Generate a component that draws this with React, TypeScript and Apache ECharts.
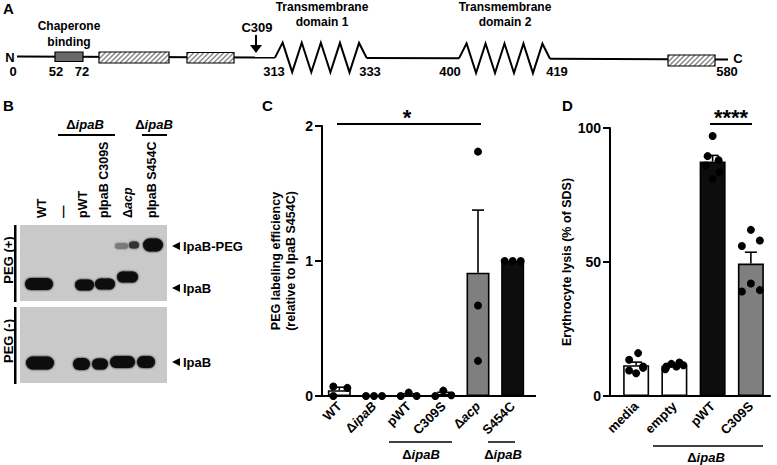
import React, { useEffect, useRef } from 'react';
import * as echarts from 'echarts';

const FONT = '"Liberation Sans", Arial, Helvetica, sans-serif';

// Panel C data
const cCategories = ['WT', 'ΔipaB', 'pWT', 'C309S', 'Δacp', 'S454C'];
const cWT = [0.07, 0.0, 0.06];
const cIpaB = [0, 0, 0];
const cPWT = [0, 0.025, 0];
const cC309S = [0, 0.04, 0.005];
const cAcp = [1.81, 0.67, 0.26];
const cS454C = [1, 1, 1];
const cTicks = [0, 1, 2];

// Panel D data
const dCategories = ['media', 'empty', 'pWT', 'C309S'];
const dMedia = [16, 13.5, 11, 9.5, 8.5, 10.5];
const dEmpty = [11, 12, 12.5, 11.5, 10, 11];
const dPWT = [97, 89.5, 88, 86, 83.5, 81];
const dC309S = [62, 56, 58, 39, 39.5, 42];
const dTicks = [0, 50, 100];

// styles
const cFills = ['#ffffff', '#ffffff', '#ffffff', '#ffffff', '#7f7f7f', '#0d0d0d'];
const dFills = ['#ffffff', '#ffffff', '#0d0d0d', '#7f7f7f'];
const cJitter = [[-6, -6, 8], [-8, 0, 8], [-8, 0, 8], [-8, 0, 8], [0, 0, 0], [-8, 0, 8]];
const dJitter = [[2, -7, 7, -7, 0, 7], [-8, -3, 5, 9, -9, 2], [0, -5, 6, -7, 7, 0], [0, -9, 9, -9, 9, 0]];

const mean = (a: number[]) => a.reduce((s, v) => s + v, 0) / a.length;
const sem = (a: number[]) => {
  const m = mean(a);
  const v = a.reduce((s, x) => s + (x - m) * (x - m), 0) / (a.length - 1);
  return Math.sqrt(v) / Math.sqrt(a.length);
};

const cGroups = [cWT, cIpaB, cPWT, cC309S, cAcp, cS454C];
const dGroups = [dMedia, dEmpty, dPWT, dC309S];

const rich = {
  n: { fontFamily: FONT, fontWeight: 'bold', fontSize: 13, color: '#000' },
  i: { fontFamily: FONT, fontWeight: 'bold', fontStyle: 'italic', fontSize: 13, color: '#000' },
};
const catFmt = (v: string) => (v.startsWith('Δ') ? `{n|Δ}{i|${v.slice(1)}}` : `{n|${v}}`);

const T = (x: number, y: number, text: string, o: any = {}, rot = 0) => ({
  type: 'text',
  x,
  y,
  rotation: rot,
  z: 10,
  style: {
    text,
    fontFamily: FONT,
    fontWeight: 'bold',
    fontSize: 12,
    fill: '#000',
    align: 'center',
    verticalAlign: 'middle',
    rich: {
      n: { fontFamily: FONT, fontWeight: 'bold', fontSize: o.fontSize || 12, fill: '#000' },
      i: { fontFamily: FONT, fontWeight: 'bold', fontStyle: 'italic', fontSize: o.fontSize || 12, fill: '#000' },
    },
    ...o,
  },
});
const L = (x1: number, y1: number, x2: number, y2: number, w = 2, c = '#000') => ({
  type: 'line',
  z: 10,
  shape: { x1, y1, x2, y2 },
  style: { stroke: c, lineWidth: w },
});

const baseY = (x: number) => 56.5 + (3 * (x - 17)) / 711;

function hatchBox(x0: number, x1: number, y0: number, y1: number, fill = '#ffffff') {
  const h = y1 - y0;
  const out: any[] = [
    { type: 'rect', z: 11, shape: { x: x0, y: y0, width: x1 - x0, height: h }, style: { fill, stroke: 'none' } },
  ];
  for (let t = x0 - h + 2; t < x1; t += 5) {
    let ax = t, ay = y1, bx = t + h, by = y0;
    if (ax < x0) { ay = y1 - (x0 - ax); ax = x0; }
    if (bx > x1) { by = y0 + (bx - x1); bx = x1; }
    if (bx <= ax) continue;
    out.push({ type: 'line', z: 12, shape: { x1: ax, y1: ay, x2: bx, y2: by }, style: { stroke: '#8c8c8c', lineWidth: 1.6 } });
  }
  out.push({ type: 'rect', z: 13, shape: { x: x0, y: y0, width: x1 - x0, height: h }, style: { fill: 'none', stroke: '#000', lineWidth: 1.2 } });
  return out;
}

function zig(xs: number, xe: number) {
  const d = (xe - xs) / 9.6;
  const b0 = baseY(xs);
  const pts: number[][] = [[xs, b0]];
  for (let k = 0; k < 9; k++) {
    const x = xs + d * (0.8 + k);
    const b = baseY(x);
    pts.push([x, k % 2 === 0 ? b - 15 : b + 14.5]);
  }
  pts.push([xe, baseY(xe)]);
  return { type: 'polyline', z: 10, shape: { points: pts }, style: { stroke: '#000', lineWidth: 2, fill: 'none' } };
}

const band = (x0: number, x1: number, cy: number, h: number, color = '#0a0a0a') => ({
  type: 'rect',
  z: 12,
  shape: { x: x0, y: cy - h / 2, width: x1 - x0, height: h, r: h / 2 },
  style: { fill: color, shadowBlur: 2, shadowColor: color },
});

const tri = (x: number, y: number) => ({
  type: 'polygon',
  z: 10,
  shape: { points: [[x, y], [x + 8, y - 4], [x + 8, y + 4]] },
  style: { fill: '#000' },
});

function buildGraphic() {
  const g: any[] = [];
  // Panel letters
  g.push(T(3, 1, 'A', { fontSize: 15, align: 'left', verticalAlign: 'top' }));
  g.push(T(3, 98, 'B', { fontSize: 15, align: 'left', verticalAlign: 'top' }));
  g.push(T(262, 98, 'C', { fontSize: 15, align: 'left', verticalAlign: 'top' }));
  g.push(T(562, 98, 'D', { fontSize: 15, align: 'left', verticalAlign: 'top' }));

  // Panel A: protein diagram
  g.push(L(17, baseY(17), 275, baseY(275)));
  g.push(L(366.7, baseY(366.7), 459, baseY(459)));
  g.push(L(550, baseY(550), 728, baseY(728)));
  g.push(zig(275, 366.7));
  g.push(zig(459, 550));
  g.push({ type: 'rect', z: 11, shape: { x: 55, y: 52, width: 28, height: 9.5 }, style: { fill: '#6a6a6a', stroke: '#000', lineWidth: 1.2 } });
  g.push(...hatchBox(99, 169, 52, 63));
  g.push(...hatchBox(187, 234, 52.5, 63));
  g.push(...hatchBox(668, 715, 55, 66));
  // arrow C309
  g.push(L(256, 35, 256, 46, 2));
  g.push({ type: 'polygon', z: 10, shape: { points: [[250, 45], [262, 45], [256, 53]] }, style: { fill: '#000' } });
  g.push(T(257, 27, 'C309', { fontSize: 13 }));
  g.push(T(10, 57, 'N', { fontSize: 13 }));
  g.push(T(738, 58, 'C', { fontSize: 13 }));
  [[13, '0'], [56, '52'], [82, '72'], [274, '313'], [370, '333'], [450, '400'], [557, '419'], [727, '580']].forEach(
    ([x, s]) => g.push(T(x as number, 71.5, s as string, { fontSize: 13 })),
  );
  g.push(T(69, 26, 'Chaperone'));
  g.push(T(69, 42, 'binding'));
  g.push(T(322, 7, 'Transmembrane'));
  g.push(T(322, 22, 'domain 1'));
  g.push(T(505, 7, 'Transmembrane'));
  g.push(T(505, 22, 'domain 2'));

  // Panel B: blot
  g.push(T(85, 124, '{n|Δ}{i|ipaB}', { fontSize: 13 }));
  g.push(L(58, 135, 115, 135, 2));
  g.push(T(154, 124, '{n|Δ}{i|ipaB}', { fontSize: 13 }));
  g.push(L(142, 135, 167, 135, 2));
  const R = Math.PI / 2;
  g.push(T(42, 218, 'WT', { align: 'left', fontSize: 12.5 }, R));
  g.push(T(63, 218, '—', { align: 'left', fontSize: 12.5 }, R));
  g.push(T(83, 218, 'pWT', { align: 'left', fontSize: 12.5 }, R));
  g.push(T(104, 218, 'pIpaB C309S', { align: 'left', fontSize: 12.5 }, R));
  g.push(T(128, 218, '{n|Δ}{i|acp}', { align: 'left', fontSize: 12.5 }, R));
  g.push(T(152, 218, 'pIpaB S454C', { align: 'left', fontSize: 12.5 }, R));
  g.push({ type: 'rect', z: 9, shape: { x: 20, y: 225, width: 147, height: 76 }, style: { fill: '#c9c9c9' } });
  g.push({ type: 'rect', z: 9, shape: { x: 20, y: 307, width: 147, height: 76 }, style: { fill: '#c9c9c9' } });
  g.push({ type: 'rect', z: 10, shape: { x: 14, y: 225, width: 2.5, height: 77 }, style: { fill: '#000' } });
  g.push({ type: 'rect', z: 10, shape: { x: 14, y: 307, width: 2.5, height: 77 }, style: { fill: '#000' } });
  g.push(T(8, 260, 'PEG (+)', { fontSize: 13 }, R));
  g.push(T(8, 341, 'PEG (-)', { fontSize: 13 }, R));
  // blot 1 bands
  g.push(band(25, 53, 284, 12));
  g.push(band(75, 94, 285, 11));
  g.push(band(95, 115, 284, 11));
  g.push(band(117, 138, 277, 11));
  g.push(band(115, 128, 246, 6, '#7a7a7a'));
  g.push(band(129, 139, 245, 7, '#333333'));
  g.push(band(143, 163, 245, 13));
  // blot 2 bands
  g.push(band(26, 54, 363, 13));
  g.push(band(73, 90, 364, 12));
  g.push(band(92, 108, 364, 11));
  g.push(band(110, 135, 362, 12));
  g.push(band(137, 155, 362, 12));
  g.push(tri(172, 246));
  g.push(T(183, 246, 'IpaB-PEG', { align: 'left', fontSize: 13 }));
  g.push(tri(172, 288));
  g.push(T(183, 288, 'IpaB', { align: 'left', fontSize: 13 }));
  g.push(tri(172, 362));
  g.push(T(183, 362, 'IpaB', { align: 'left', fontSize: 13 }));

  // Panel C annotations
  g.push(L(337, 124, 481, 124, 2));
  g.push(T(407, 117, '*', { fontSize: 22 }));
  g.push(L(530, 396, 536, 396, 2));
  g.push(L(389, 442, 452, 442, 1.5));
  g.push(T(421, 454, '{n|Δ}{i|ipaB}', { fontSize: 13 }));
  g.push(L(488, 442, 515, 442, 1.5));
  g.push(T(503, 454, '{n|Δ}{i|ipaB}', { fontSize: 13 }));

  // Panel D annotations
  g.push(L(710, 124, 752, 124, 2));
  g.push(T(731, 117, '****', { fontSize: 22 }));
  g.push(L(609, 396, 618, 396, 2));
  g.push(L(653, 446, 763, 446, 1.5));
  g.push(T(706, 457, '{n|Δ}{i|ipaB}', { fontSize: 13 }));
  return g;
}

const errRender = (params: any, api: any) => {
  const b = api.coord([api.value(0), api.value(1)]);
  const t = api.coord([api.value(0), api.value(2)]);
  if (Math.abs(b[1] - t[1]) < 0.5) return { type: 'group', children: [] };
  return {
    type: 'group',
    children: [
      { type: 'line', shape: { x1: b[0], y1: b[1], x2: t[0], y2: t[1] }, style: { stroke: '#000', lineWidth: 1.6 } },
      { type: 'line', shape: { x1: t[0] - 6, y1: t[1], x2: t[0] + 6, y2: t[1] }, style: { stroke: '#000', lineWidth: 1.6 } },
    ],
  };
};

function buildOption() {
  const axisStyle = { lineStyle: { color: '#000', width: 2 } };
  const yLabel = { fontFamily: FONT, fontWeight: 'bold', fontSize: 14, color: '#000', margin: 9 };
  return {
    animation: false,
    backgroundColor: '#ffffff',
    textStyle: { fontFamily: FONT },
    grid: [
      { left: 322, top: 126, width: 208, height: 270 },
      { left: 617, top: 128, width: 153, height: 268 },
    ],
    xAxis: [
      {
        type: 'category',
        gridIndex: 0,
        data: cCategories,
        axisLine: axisStyle,
        axisTick: { alignWithLabel: true, length: 6, lineStyle: { color: '#000', width: 2 } },
        axisLabel: { interval: 0, rotate: 45, margin: 8, formatter: catFmt, rich },
      },
      {
        type: 'category',
        gridIndex: 1,
        data: dCategories,
        axisLine: axisStyle,
        axisTick: { alignWithLabel: true, length: 6, lineStyle: { color: '#000', width: 2 } },
        axisLabel: { interval: 0, rotate: 45, margin: 8, formatter: catFmt, rich },
      },
    ],
    yAxis: [
      {
        type: 'value',
        gridIndex: 0,
        min: cTicks[0],
        max: cTicks[cTicks.length - 1],
        interval: 1,
        axisLine: { show: true, ...axisStyle },
        axisTick: { show: true, length: 7, lineStyle: { color: '#000', width: 2 } },
        axisLabel: yLabel,
        splitLine: { show: false },
        name: 'PEG labeling efficiency\n(relative to IpaB S454C)',
        nameLocation: 'middle',
        nameGap: 24,
        nameTextStyle: { fontFamily: FONT, fontWeight: 'bold', fontSize: 12.5, color: '#000', lineHeight: 15 },
      },
      {
        type: 'value',
        gridIndex: 1,
        min: dTicks[0],
        max: dTicks[dTicks.length - 1],
        interval: 50,
        offset: 7,
        axisLine: { show: true, ...axisStyle },
        axisTick: { show: true, length: 7, lineStyle: { color: '#000', width: 2 } },
        axisLabel: yLabel,
        splitLine: { show: false },
        name: 'Erythrocyte lysis (% of SDS)',
        nameLocation: 'middle',
        nameGap: 22,
        nameTextStyle: { fontFamily: FONT, fontWeight: 'bold', fontSize: 12.5, color: '#000' },
      },
    ],
    series: [
      {
        type: 'bar',
        xAxisIndex: 0,
        yAxisIndex: 0,
        barWidth: 23,
        z: 2,
        itemStyle: { borderColor: '#000', borderWidth: 1.6 },
        data: cGroups.map((g, i) => ({ value: mean(g), itemStyle: { color: cFills[i] } })),
      },
      {
        type: 'custom',
        xAxisIndex: 0,
        yAxisIndex: 0,
        z: 3,
        renderItem: errRender,
        data: cGroups.map((g, i) => [i, mean(g), mean(g) + sem(g)]),
      },
      {
        type: 'scatter',
        xAxisIndex: 0,
        yAxisIndex: 0,
        z: 4,
        symbolSize: 8,
        itemStyle: { color: '#000', opacity: 1 },
        data: cGroups.flatMap((g, i) => g.map((v, j) => ({ value: [i, v], symbolOffset: [cJitter[i][j], 0] }))),
      },
      {
        type: 'bar',
        xAxisIndex: 1,
        yAxisIndex: 1,
        barWidth: 26,
        z: 2,
        itemStyle: { borderColor: '#000', borderWidth: 1.6 },
        data: dGroups.map((g, i) => ({ value: mean(g), itemStyle: { color: dFills[i] } })),
      },
      {
        type: 'scatter',
        xAxisIndex: 1,
        yAxisIndex: 1,
        z: 3,
        symbolSize: 8,
        itemStyle: { color: '#000', opacity: 1 },
        data: dGroups.flatMap((g, i) => g.map((v, j) => ({ value: [i, v], symbolOffset: [dJitter[i][j], 0] }))),
      },
      {
        type: 'custom',
        xAxisIndex: 1,
        yAxisIndex: 1,
        z: 4,
        renderItem: errRender,
        data: dGroups.map((g, i) => [i, mean(g), mean(g) + sem(g)]),
      },
    ],
    graphic: buildGraphic(),
  };
}

export default function App() {
  const ref = useRef<HTMLDivElement>(null);
  useEffect(() => {
    const chart = echarts.init(ref.current as HTMLDivElement, null, { renderer: 'svg' });
    chart.setOption(buildOption() as any);
    return () => chart.dispose();
  }, []);
  return (
    <div
      ref={ref}
      style={{ position: 'fixed', left: 0, top: 0, width: 777, height: 465, background: '#ffffff' }}
    />
  );
}
